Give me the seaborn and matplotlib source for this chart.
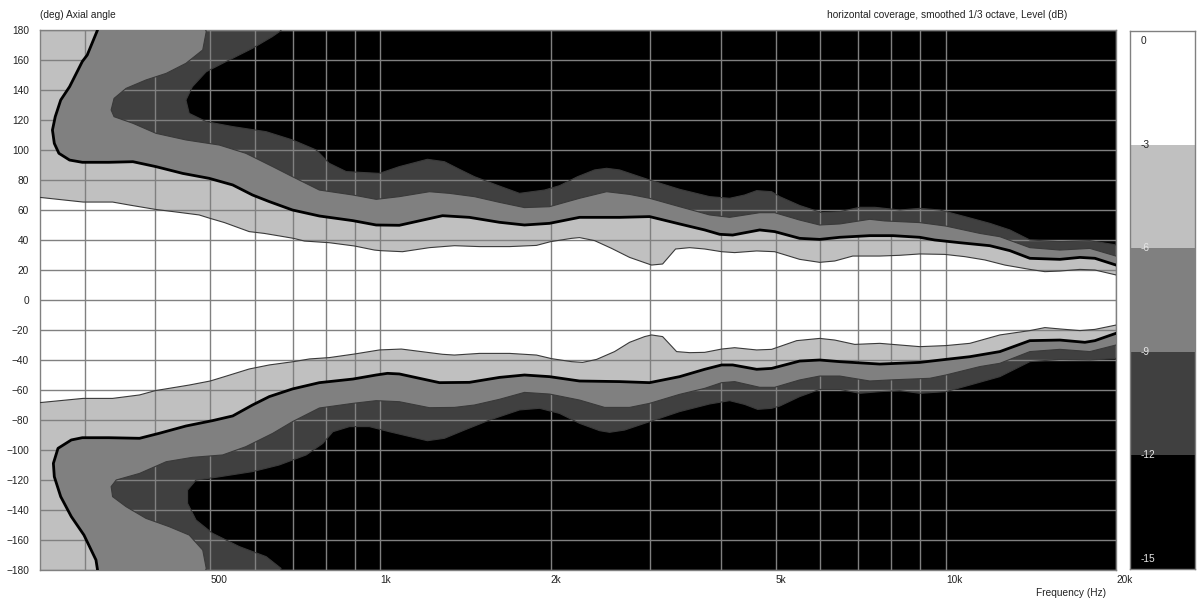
import matplotlib
matplotlib.use("Agg")
import matplotlib.pyplot as plt
import matplotlib.transforms as mtransforms
from matplotlib.ticker import FixedLocator, NullFormatter
import pandas as pd
import seaborn as sns

F_MIN, F_MAX = 250, 20000
ANG_MAX = 180

# -3 dB contour (upper / lower half)
UP3_F = [250, 298, 336, 360, 400, 441, 478, 500, 530, 586, 623, 663, 702, 734, 812, 900, 976, 1000,
         1094, 1221, 1352, 1497, 1692, 1888, 2000, 2178, 2250, 2392, 2564, 2759, 2933, 3017, 3156,
         3327, 3523, 3746, 4014, 4232, 4629, 4981, 5515, 5984, 6362, 6846, 7643, 8292, 8995, 9959,
         10805, 11723, 12718, 14083, 14970, 15914, 17266, 18353, 20000]
UP3_A = [68.4, 65.3, 65.3, 63.3, 60.4, 58.4, 56.7, 54.4, 51.6, 45.6, 44.4, 42.7, 41.1, 39.3, 38.2, 36, 33.3, 32.9,
         32.2, 34.9, 36.2, 35.6, 35.6, 36.4, 38.9, 41.1, 41.6, 39.6, 34.4, 28.4, 24.9, 23.3, 24,
         34, 34.9, 34, 32.2, 31.6, 32.7, 32.2, 27.1, 25.1, 26, 29.3, 29.3, 29.8, 30.7, 30.4,
         28.9, 26.7, 23.3, 20.4, 18.9, 19.3, 20.4, 20, 16.7]
LO3_F = [250, 298, 336, 375, 400, 459, 500, 530, 586, 636, 702, 749, 812, 900, 996, 1089, 1288, 1352,
         1497, 1692, 1888, 2008, 2178, 2278, 2412, 2595, 2759, 2933, 3017, 3156, 3341, 3523, 3746,
         4014, 4232, 4629, 4920, 5448, 5984, 6362, 6902, 7643, 8995, 10000, 11027, 12462, 14083,
         14970, 15914, 17266, 18353, 20000]
LO3_A = [-68.4, -65.6, -65.6, -63.3, -60.4, -56.7, -54, -51.1, -46, -43.3, -41.1, -39.3, -38.4, -36, -33.3, -32.7, -36.2, -36.7,
         -35.6, -35.6, -36.7, -39.1, -41.1, -41.6, -39.6, -34.4, -28.2, -24.4, -23.3, -24.4, -34.4, -35.1, -34.9,
         -32.7, -31.8, -33.3, -32.9, -27.1, -25.6, -26.7, -29.6, -28.9, -31.1, -30.4, -28.9, -23.3, -20.4,
         -18.4, -19.3, -20.4, -19.6, -16.7]

# -6 dB contour
UP6_F = [316, 303, 297, 282, 272, 266, 263, 265, 270, 282, 297, 331, 365, 401, 447, 498, 548, 594, 636,
         699, 780, 894, 983, 1080, 1288, 1437, 1624, 1798, 1991, 2250, 2649, 2993, 3382, 3746, 3981,
         4198, 4686, 4981, 5515, 5984, 6493, 7337, 8058, 8995, 9561, 10588, 11965, 12981, 14083,
         15914, 17266, 18353, 20000]
UP6_A = [180, 163.3, 159, 142.2, 133.3, 122.2, 113.3, 104.4, 97.8, 93.3, 91.8, 91.8, 92.2, 88.9, 84.4, 81.1, 76.7, 70, 65.6,
         60, 56, 52.9, 50, 49.8, 56.2, 55.1, 51.8, 50, 51.1, 55.1, 55.1, 55.6, 50.7, 46.7, 43.8,
         43.3, 46.7, 45.6, 41.1, 40.4, 41.8, 42.9, 42.9, 41.8, 40, 38.2, 36.2, 32.9, 27.8,
         27.1, 28.4, 27.8, 23.3]
LO6_F = [316, 314, 299, 284, 272, 265, 264, 269, 284, 297, 331, 375, 406, 453, 505, 548, 594, 636,
         699, 780, 894, 983, 1029, 1080, 1272, 1437, 1624, 1798, 1991, 2250, 2649, 2993, 3382, 3746,
         4014, 4198, 4629, 4920, 5515, 5984, 6493, 7643, 8995, 10000, 11027, 12462, 14083, 15914,
         17620, 18353, 20000]
LO6_A = [-180, -173.3, -156.7, -144.4, -131.1, -117.8, -108.9, -98.9, -93.3, -91.8, -91.8, -92.2, -88.9, -84, -80.4, -77.3, -70, -64.4,
         -59.3, -55.1, -52.7, -50, -48.9, -49.3, -55.1, -54.9, -51.6, -50, -51.1, -54, -54.4, -55.1, -51.1, -46.2,
         -43.3, -43.3, -46.2, -45.6, -40.7, -40, -41.1, -42.7, -41.6, -39.6, -37.8, -34.4, -27.1, -26.7,
         -28.2, -27.1, -22.2]

# -9 dB contour
UP9_F = [491, 492, 485, 453, 418, 385, 355, 338, 334, 338, 365, 401, 453, 519, 578, 645, 699, 780,
         894, 983, 1080, 1221, 1325, 1467, 1624, 1798, 1991, 2250, 2512, 2759, 2993, 3382, 3823,
         4147, 4686, 4981, 5515, 5984, 6493, 7337, 7799, 8995, 10000, 11487, 12462, 14083, 15914,
         17983, 20000]
UP9_A = [180, 178.9, 166.7, 157.8, 151.1, 146.7, 141.1, 134.4, 126.7, 122.2, 117.8, 111.1, 106.7, 103.3, 97.8, 88.9, 82.2, 73.3,
         70, 67.1, 68.9, 72.2, 71.1, 68.9, 65.1, 61.6, 62.2, 67.8, 72.2, 70.4, 67.8, 62.2, 56.7,
         55.1, 58.2, 58.2, 53.3, 50, 50.7, 53.8, 52.7, 51.6, 49.3, 44.4, 42.2, 34.9, 33.3,
         34.4, 29.3]
LO9_F = [491, 492, 485, 459, 423, 385, 355, 336, 334, 341, 375, 418, 465, 526, 578, 645, 699, 780,
         894, 983, 1080, 1221, 1352, 1467, 1624, 1798, 1991, 2250, 2492, 2759, 2993, 3382, 3746,
         4014, 4232, 4686, 4981, 5515, 5984, 6493, 7337, 7960, 9369, 10000, 11487, 12462, 14083,
         15914, 17983, 20000]
LO9_A = [-180, -178.9, -166.7, -156.7, -151.1, -145.6, -137.8, -131.1, -124.4, -120, -115.6, -107.8, -104.9, -103.3, -97.8, -88.9, -81.1, -72,
         -68.9, -67.1, -67.8, -71.8, -71.6, -70, -66.2, -61.6, -62.7, -66.7, -71.6, -71.6, -68.9, -62.9, -58.9,
         -55.1, -54.4, -58.2, -58.2, -53.3, -50.7, -50.7, -54, -53.3, -52.2, -50, -44.4, -42.2, -34.4,
         -32.9, -34.4, -30]

# -12 dB contour
UP12_F = [667, 667, 644, 594, 533, 492, 465, 453, 459, 492, 548, 628, 699, 770, 812, 870, 996, 1080,
          1211, 1298, 1380, 1467, 1604, 1762, 1951, 2074, 2232, 2392, 2512, 2649, 2993, 3382, 3823,
          4147, 4408, 4629, 4920, 5084, 5515, 6033, 6493, 7044, 7488, 8292, 8995, 9759, 10805,
          11965, 12981, 14083, 15914, 17983, 20000]
UP12_A = [180, 179.6, 175.6, 167.8, 158.9, 152.2, 142.2, 133.3, 124.4, 118.9, 115.6, 112.2, 106.7, 100, 91.1, 85.6, 84.4, 88.9,
          93.8, 92.2, 87.1, 82.2, 76.7, 71.1, 73.3, 76.2, 82.2, 86.7, 87.8, 86.7, 80, 73.8, 68.9,
          67.8, 70, 72.9, 72.2, 68.9, 63, 58.2, 58.9, 61.8, 61.8, 60, 61.1, 60, 55.6,
          51.1, 46.7, 40, 38.9, 39.6, 36.7]
LO12_F = [667, 667, 628, 563, 505, 472, 456, 456, 472, 512, 594, 662, 739, 791, 824, 882, 956, 1037,
          1211, 1298, 1408, 1560, 1762, 1912, 2074, 2250, 2441, 2543, 2704, 2993, 3382, 3823, 4147,
          4408, 4648, 4920, 5084, 5515, 5984, 6493, 7044, 7643, 8292, 8995, 10000, 11027, 12462,
          14083, 15914, 17983, 20000]
LO12_A = [-180, -178.9, -171.1, -164.4, -155.6, -146.7, -135.6, -126.7, -120, -118.2, -114.4, -110, -103.3, -95.6, -87.8, -84.4, -84.4, -87.8,
          -93.8, -92.2, -86.7, -80, -73.3, -72.2, -75.6, -82.2, -87.1, -88.2, -86.7, -81.1, -74.4, -69.3, -67.1,
          -69.6, -72.9, -72.2, -70.7, -64.4, -59.6, -59.6, -62.2, -61.1, -60.4, -62.2, -61.1, -56.7, -51.1,
          -41.1, -39.6, -40, -38.9]

LEVELS = [0, -3, -6, -9, -12, -15]
BAND_COLORS = ["#ffffff", "#c0c0c0", "#808080", "#404040", "#000000"]
CB_RANGE = (-15.3, 0.3)

TICK_F = [500, 1000, 2000, 5000, 10000, 20000]
TICK_LABELS = ["500", "1k", "2k", "5k", "10k", "20k"]
GRID_F = [300, 400, 600, 700, 800, 900, 3000, 4000, 6000, 7000, 8000, 9000]
Y_TICKS = list(range(-180, 181, 20))


def _region(uf, ua, lf, la):
    # closed outline of the area louder than a level, wrapping round the left edge
    xs, ys = [], []
    if uf[0] > F_MIN:
        xs.append(F_MIN)
        ys.append(ANG_MAX)
    xs += list(uf)
    ys += list(ua)
    xs += list(lf)[::-1]
    ys += list(la)[::-1]
    if lf[0] > F_MIN:
        xs.append(F_MIN)
        ys.append(-ANG_MAX)
    return xs, ys


sns.set_style("white")
plt.rcParams["font.family"] = ["Liberation Sans", "DejaVu Sans"]
FS = 7.3
W, H = 1201, 603

fig = plt.figure(figsize=(W / 100, H / 100), dpi=100)
ax = fig.add_axes([40 / W, 33 / H, 1076 / W, 540 / H])
ax.set_facecolor("#000000")
ax.set_xscale("log")

contours = [
    (-12, UP12_F, UP12_A, LO12_F, LO12_A),
    (-9, UP9_F, UP9_A, LO9_F, LO9_A),
    (-6, UP6_F, UP6_A, LO6_F, LO6_A),
    (-3, UP3_F, UP3_A, LO3_F, LO3_A),
]
for lev, uf, ua, lf, la in contours:
    color = BAND_COLORS[LEVELS.index(lev) - 1]
    xs, ys = _region(uf, ua, lf, la)
    ax.fill(xs, ys, color=color, lw=0, zorder=1)

for lev, uf, ua, lf, la in contours:
    main = lev == -6
    for f, a in ((uf, ua), (lf, la)):
        df = pd.DataFrame({"f": f, "a": a})
        sns.lineplot(data=df, x="f", y="a", sort=False, estimator=None, ax=ax,
                     color="#000000" if main else "#3a3a3a", lw=2.0 if main else 0.8,
                     zorder=4 if main else 3)

ax.set_xlim(F_MIN, F_MAX)
ax.set_ylim(-ANG_MAX, ANG_MAX)
ax.set_xlabel("")
ax.set_ylabel("")
ax.set_xticks(TICK_F)
ax.set_xticklabels(TICK_LABELS, ha="left")
ax.xaxis.set_minor_locator(FixedLocator(GRID_F))
ax.xaxis.set_minor_formatter(NullFormatter())
ax.set_yticks(Y_TICKS)
ax.tick_params(which="both", length=0, labelsize=FS, labelcolor="#222222")
ax.tick_params(axis="x", pad=3.5)
ax.tick_params(axis="y", pad=8)
ax.set_axisbelow(False)
ax.grid(True, which="both", color="#808080", lw=1.0)
for s in ax.spines.values():
    s.set_color("#808080")
    s.set_linewidth(1.0)

# level colour bar
cax = fig.add_axes([1130 / W, 34 / H, 65 / W, 538 / H])
cax.set_facecolor(BAND_COLORS[0])
for i in range(1, len(BAND_COLORS)):
    lo = LEVELS[i + 1] if i + 1 < len(LEVELS) - 1 else CB_RANGE[0]
    cax.axhspan(lo, LEVELS[i], color=BAND_COLORS[i], lw=0)
cax.set_ylim(*CB_RANGE)
cax.set_xlim(0, 1)
cax.set_xticks([])
cax.set_yticks(LEVELS)
cax.set_yticklabels([])
cax.tick_params(axis="y", direction="in", length=3, color="#808080", width=0.8)
trans = mtransforms.blended_transform_factory(cax.transAxes, cax.transData)
for v in LEVELS:
    cax.text(0.16, v, str(v), transform=trans, ha="left", va="center", fontsize=FS,
             color="#222222" if v > -6 else "#e6e6e6")
for s in cax.spines.values():
    s.set_color("#808080")
    s.set_linewidth(1.0)

fig.text(40 / W, 1 - 15 / H, "(deg) Axial angle", ha="left", va="center", fontsize=FS, color="#222222")
fig.text(1067 / W, 1 - 15 / H, "horizontal coverage, smoothed 1/3 octave, Level (dB)",
         ha="right", va="center", fontsize=FS, color="#222222")
fig.text(1106 / W, 1 - 593 / H, "Frequency (Hz)", ha="right", va="center", fontsize=FS, color="#222222")

fig.savefig("out.png", dpi=100)
